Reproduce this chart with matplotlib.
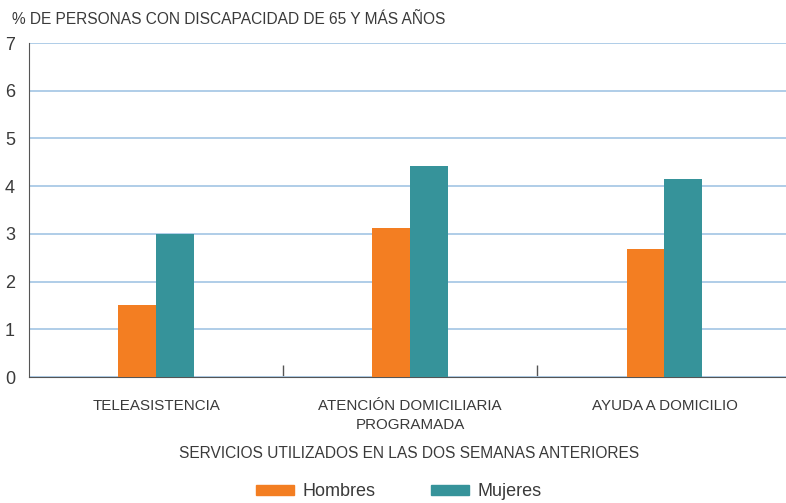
import matplotlib.pyplot as plt
import numpy as np
from matplotlib.patches import Patch

categorias = ['TELEASISTENCIA', 'ATENCIÓN DOMICILIARIA\nPROGRAMADA', 'AYUDA A DOMICILIO']
hombres = [1.5, 3.12, 2.68]
mujeres = [3.0, 4.43, 4.15]

c_h = '#F37E22'
c_m = '#36939A'
texto = '#3a3a3a'

plt.rcParams['font.family'] = ['Liberation Sans', 'DejaVu Sans']

fig = plt.figure(figsize=(7.86, 5.03), dpi=100)
ax = fig.add_axes([29 / 786, 126 / 503, 757 / 786, 334 / 503])

x = np.arange(len(categorias))
w = 0.149
ax.bar(x - w / 2, hombres, w, color=c_h, zorder=3)
ax.bar(x + w / 2, mujeres, w, color=c_m, zorder=3)

ax.set_ylim(0, 7)
ax.set_xlim(-0.5, 2.478)
ax.set_yticks(range(8))
ax.yaxis.grid(True, color='#a9c9e6', lw=1.3, zorder=0)
ax.tick_params(axis='y', length=0, pad=10, labelsize=13, labelcolor=texto)

ax.set_xticks(x)
ax.set_xticklabels(categorias, fontsize=10.9, color=texto, linespacing=1.4)
ax.tick_params(axis='x', which='major', length=0, pad=16)
ax.set_xticks([0.5, 1.5], minor=True)
ax.tick_params(axis='x', which='minor', direction='in', length=9, width=1, color='#555555')

for s in ['top', 'right']:
    ax.spines[s].set_visible(False)
ax.spines['left'].set_color('#555555')
ax.spines['bottom'].set_color('#555555')

fig.text(12 / 786, 1 - 20 / 503, '% DE PERSONAS CON DISCAPACIDAD DE 65 Y MÁS AÑOS',
         fontsize=11.2, color=texto, va='center', ha='left')
fig.text(409 / 786, 1 - 453 / 503, 'SERVICIOS UTILIZADOS EN LAS DOS SEMANAS ANTERIORES',
         fontsize=11.2, color=texto, va='center', ha='center')

handles = [Patch(color=c_h, label='Hombres'), Patch(color=c_m, label='Mujeres')]
fig.legend(handles=handles, loc='center', bbox_to_anchor=(399 / 786, 1 - 492 / 503),
           ncol=2, frameon=False, fontsize=13, handlelength=2.1, handleheight=0.45,
           columnspacing=3.1, handletextpad=0.45, labelcolor=texto)

fig.savefig('out.png', dpi=100)
